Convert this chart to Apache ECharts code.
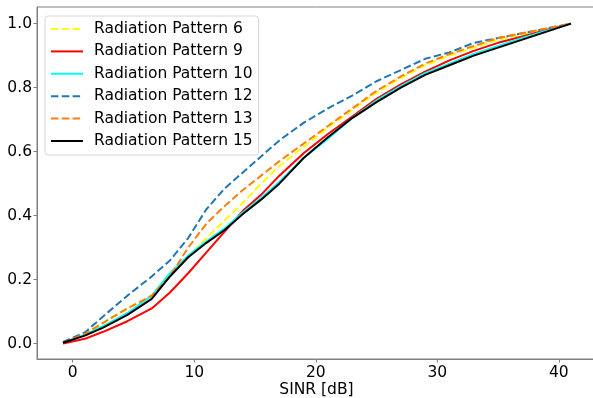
<!DOCTYPE html>
<html>
<head>
<meta charset="utf-8">
<script src="https://cdn.jsdelivr.net/npm/echarts@6/dist/echarts.min.js"></script>
<style>
  html, body { margin: 0; padding: 0; background: #fff; }
  #main { width: 593px; height: 398px; }
</style>
</head>
<body>
<div id="main"></div>
<script>
var sinr = [-0.8, 1, 2.5, 4.5, 6.5, 8, 9.5, 11, 12.5, 14, 15.5, 17, 19, 21, 23, 25, 27, 29, 31, 33, 35, 37, 39, 41];

var pattern6  = [0.003, 0.03, 0.065, 0.11, 0.15, 0.215, 0.27, 0.33, 0.385, 0.44, 0.50, 0.555, 0.615, 0.675, 0.73, 0.785, 0.83, 0.87, 0.90, 0.925, 0.95, 0.965, 0.98, 1.0];
var pattern9  = [0.0, 0.015, 0.037, 0.07, 0.11, 0.16, 0.22, 0.285, 0.35, 0.415, 0.465, 0.525, 0.595, 0.655, 0.71, 0.765, 0.81, 0.85, 0.885, 0.915, 0.94, 0.96, 0.98, 1.0];
var pattern10 = [0.003, 0.028, 0.055, 0.095, 0.15, 0.22, 0.275, 0.32, 0.36, 0.41, 0.455, 0.505, 0.58, 0.64, 0.705, 0.76, 0.805, 0.845, 0.875, 0.905, 0.93, 0.955, 0.978, 1.0];
var pattern12 = [0.005, 0.035, 0.085, 0.15, 0.21, 0.26, 0.33, 0.42, 0.485, 0.535, 0.585, 0.635, 0.69, 0.735, 0.775, 0.82, 0.855, 0.89, 0.91, 0.94, 0.955, 0.97, 0.985, 1.0];
var pattern13 = [0.003, 0.03, 0.065, 0.11, 0.15, 0.21, 0.30, 0.375, 0.43, 0.48, 0.525, 0.57, 0.625, 0.68, 0.735, 0.79, 0.835, 0.875, 0.905, 0.93, 0.955, 0.97, 0.985, 1.0];
var pattern15 = [0.003, 0.025, 0.05, 0.09, 0.14, 0.21, 0.27, 0.315, 0.355, 0.405, 0.45, 0.50, 0.58, 0.645, 0.705, 0.755, 0.80, 0.84, 0.87, 0.90, 0.925, 0.95, 0.975, 1.0];

var xTicks = [0, 10, 20, 30, 40];
var yTicks = [0, 0.2, 0.4, 0.6, 0.8, 1.0];

function pairs(ys) {
    return sinr.map(function (x, i) { return [x, ys[i]]; });
}

var dash = [7.5, 3.3];
var font = 'DejaVu Sans';

var myChart = echarts.init(document.getElementById('main'));
var option = {
    animation: false,
    textStyle: { fontFamily: font },
    grid: {
        left: 37,
        top: 7,
        bottom: 39,
        right: -3,
        containLabel: false,
        outerBoundsMode: 'none',
        show: true,
        borderColor: '#808080',
        borderWidth: 1
    },
    legend: {
        orient: 'vertical',
        left: 45,
        top: 16,
        itemWidth: 32,
        itemHeight: 14,
        itemGap: 6.4,
        padding: [5, 6, 6, 5],
        backgroundColor: '#fff',
        borderColor: '#d6d6d6',
        borderWidth: 1,
        borderRadius: 3,
        itemStyle: { opacity: 0 },
        textStyle: { fontFamily: font, fontSize: 15.5, color: '#000', lineHeight: 16, padding: [0, 0, 0, 6] },
        data: ['Radiation Pattern 6', 'Radiation Pattern 9', 'Radiation Pattern 10',
               'Radiation Pattern 12', 'Radiation Pattern 13', 'Radiation Pattern 15']
    },
    xAxis: {
        type: 'value',
        min: -2.94,
        max: 43.06,
        name: 'SINR [dB]',
        nameLocation: 'middle',
        nameGap: 23,
        nameMoveOverlap: false,
        nameTextStyle: { fontFamily: font, fontSize: 15.5, color: '#000' },
        splitLine: { show: false },
        axisLine: { onZero: false, lineStyle: { color: '#808080' } },
        axisTick: { show: true, length: 3.5, customValues: xTicks, lineStyle: { color: '#808080' } },
        axisLabel: { customValues: xTicks, margin: 6, fontSize: 15.5, color: '#000', fontFamily: font }
    },
    yAxis: {
        type: 'value',
        min: -0.048,
        max: 1.052,
        splitLine: { show: false },
        axisLine: { show: true, onZero: false, lineStyle: { color: '#808080' } },
        axisTick: { show: true, length: 3.5, customValues: yTicks, lineStyle: { color: '#808080' } },
        axisLabel: {
            customValues: yTicks, margin: 5, fontSize: 15.5, color: '#000', fontFamily: font,
            formatter: function (v) { return v.toFixed(1); }
        }
    },
    series: [
        { name: 'Radiation Pattern 6', type: 'line', symbol: 'none', data: pairs(pattern6),
          itemStyle: { color: '#ffff00' }, lineStyle: { color: '#ffff00', width: 2, type: dash } },
        { name: 'Radiation Pattern 9', type: 'line', symbol: 'none', data: pairs(pattern9),
          itemStyle: { color: '#ff0000' }, lineStyle: { color: '#ff0000', width: 2 } },
        { name: 'Radiation Pattern 10', type: 'line', symbol: 'none', data: pairs(pattern10),
          itemStyle: { color: '#00ffff' }, lineStyle: { color: '#00ffff', width: 2 } },
        { name: 'Radiation Pattern 12', type: 'line', symbol: 'none', data: pairs(pattern12),
          itemStyle: { color: '#1f77b4' }, lineStyle: { color: '#1f77b4', width: 2, type: dash } },
        { name: 'Radiation Pattern 13', type: 'line', symbol: 'none', data: pairs(pattern13),
          itemStyle: { color: '#ff7f0e' }, lineStyle: { color: '#ff7f0e', width: 2, type: dash } },
        { name: 'Radiation Pattern 15', type: 'line', symbol: 'none', data: pairs(pattern15),
          itemStyle: { color: '#000000' }, lineStyle: { color: '#000000', width: 2 } }
    ]
};
myChart.setOption(option);
</script>
</body>
</html>
